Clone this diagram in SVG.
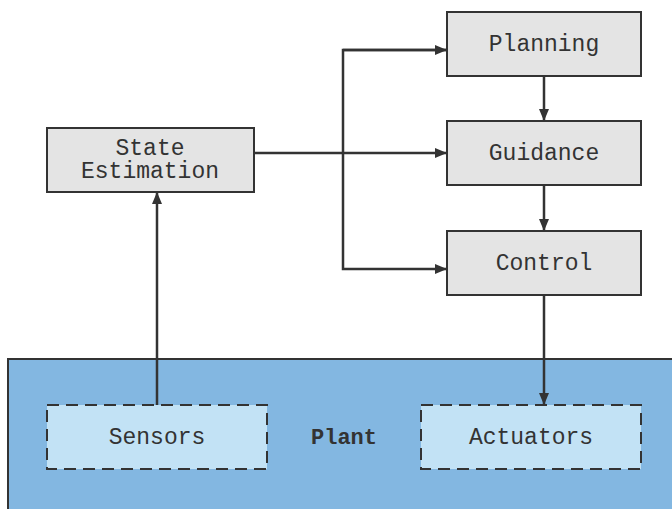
<svg xmlns="http://www.w3.org/2000/svg" width="672" height="509" viewBox="0 0 672 509">
<defs>
<marker id="ah" markerWidth="12" markerHeight="10" refX="11" refY="5" orient="auto" markerUnits="userSpaceOnUse">
<path d="M0,0 L12,5 L0,10 Z" fill="#333"/>
</marker>
<style>
.box{fill:#e4e4e4;stroke:#333;stroke-width:2}
.dash{fill:#c2e2f5;stroke:#333;stroke-width:2;stroke-dasharray:12,7}
.t{font-family:"Liberation Mono",monospace;font-size:23px;fill:#333;text-anchor:middle;dominant-baseline:central}
.b{font-weight:bold;font-size:22px}
.c{fill:none;stroke:#333;stroke-width:2.5}
</style>
</defs>
<rect width="672" height="509" fill="#fff"/>
<g id="plant">
<rect x="8" y="359" width="680" height="170" fill="#83b7e1" stroke="#333" stroke-width="2"/>
<text class="t b" x="344" y="438">Plant</text>
</g>
<g id="sensors">
<rect class="dash" x="47" y="405" width="220" height="64"/>
<text class="t" x="157" y="438">Sensors</text>
</g>
<g id="actuators">
<rect class="dash" x="421" y="405" width="220" height="64"/>
<text class="t" x="531" y="438">Actuators</text>
</g>
<g id="state-estimation">
<rect class="box" x="47" y="128" width="207" height="64"/>
<text class="t" x="150" y="149">State</text>
<text class="t" x="150" y="172">Estimation</text>
</g>
<g id="planning">
<rect class="box" x="447" y="12" width="194" height="64"/>
<text class="t" x="544" y="45">Planning</text>
</g>
<g id="guidance">
<rect class="box" x="447" y="121" width="194" height="64"/>
<text class="t" x="544" y="154">Guidance</text>
</g>
<g id="control">
<rect class="box" x="447" y="231" width="194" height="64"/>
<text class="t" x="544" y="264">Control</text>
</g>
<g id="connectors">
<path class="c" d="M254,153 H446" marker-end="url(#ah)"/>
<path class="c" d="M446,50 H343 V269 H446" marker-end="url(#ah)"/>
<path class="c" d="M343,50 H446" marker-end="url(#ah)"/>
<path class="c" d="M544,76 V120" marker-end="url(#ah)"/>
<path class="c" d="M544,185 V230" marker-end="url(#ah)"/>
<path class="c" d="M544,295 V404" marker-end="url(#ah)"/>
<path class="c" d="M157,405 V193" marker-end="url(#ah)"/>
</g>
</svg>
